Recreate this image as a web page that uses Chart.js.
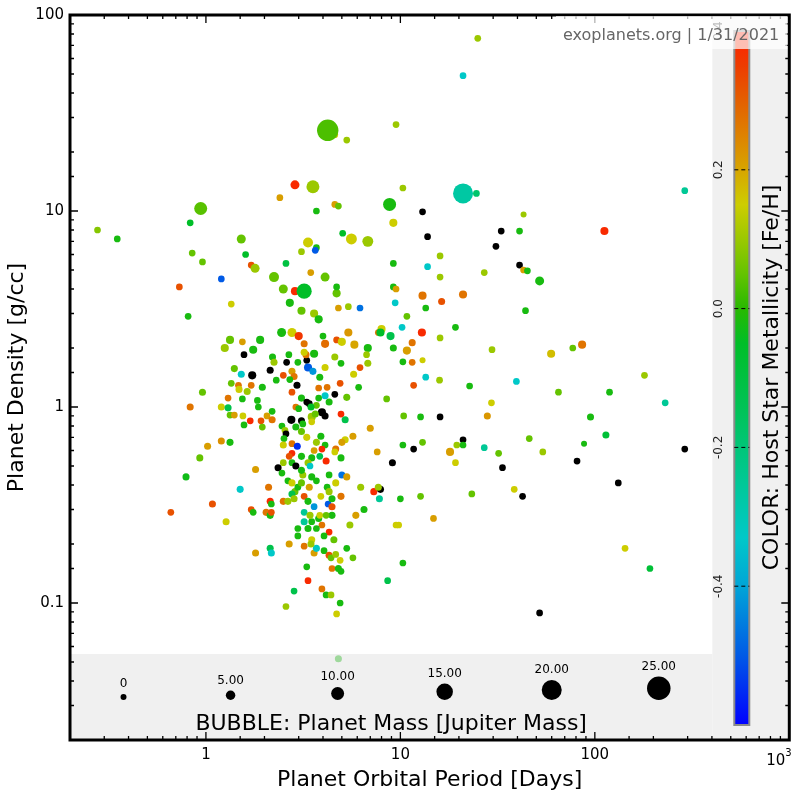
<!DOCTYPE html>
<html>
<head>
<meta charset="utf-8">
<title>Planet Density vs Orbital Period</title>
<style>
  html, body { margin: 0; padding: 0; background: #fff; }
  #wrap { width: 800px; height: 800px; }
</style>
<script src="https://cdn.jsdelivr.net/npm/chart.js@4.4.1/dist/chart.umd.min.js"></script>
</head>
<body>
<div id="wrap"><canvas id="chart" width="800" height="800"></canvas></div>
<script>
// orbital period [days], density [g/cc], mass [Jupiter], host star [Fe/H] (null = unknown, drawn black)
const period = [
  0.277, 0.35, 0.94, 0.83, 0.85, 0.96, 0.73, 1.2, 0.81, 1.35,
  1.52, 1.6, 1.71, 1.79, 2.24, 2.58, 2.4, 2.87, 3.55,
  4.6, 4.23, 5.3, 9.5, 3.7, 4.6, 4.8, 5.05, 5.6, 6.8,
  8.8, 9.2, 3.35, 3.1, 3.7, 3.65, 3.46, 4.1, 2.5, 2.87,
  3.2, 2.7, 4.7, 4.7, 5.4, 4.8, 6.2, 3.1, 3.6, 3.8,
  9.2, 9.5, 9.4, 8.0, 7.7, 7.9, 8.9, 9.2, 2.45, 2.77,
  3.0, 3.2, 4.0, 4.1, 4.7, 5.0, 5.4, 5.8, 6.8, 1.33,
  1.25, 1.54, 1.9, 1.75, 1.57, 1.4, 1.52, 1.73, 2.14, 2.2,
  2.24, 2.67, 2.6, 2.97, 3.3, 3.27, 3.6, 3.35, 3.55, 4.1,
  4.6, 4.95, 6.2, 6.7, 6.8, 2.5, 2.77, 2.84, 2.7, 2.94,
  2.3, 1.95, 1.71, 1.63, 1.47, 1.48, 1.35, 0.96, 2.77, 3.1,
  3.8, 4.2, 4.1, 4.6, 5.3, 6.1, 8.5, 1.3, 1.54, 1.84,
  3.3, 3.8, 25, 21, 10.3, 21, 24.6, 290, 13, 13.8,
  43, 33, 31, 41, 112, 16, 13.8, 16, 27, 41,
  43, 45, 52, 13, 16.3, 21, 13.5, 10.8, 44, 10.2,
  12.9, 19.2, 16, 11.5, 10.8, 29.6, 59.6, 77, 86, 10.3,
  11.5, 13, 11.7, 13.5, 15.9, 22.7, 39.5, 65, 119, 180,
  230, 29.4, 10.4, 12.7, 16, 28, 95, 10.3, 11.7, 13,
  21, 19.5, 21, 18, 19.2, 27, 32, 33.5, 46, 54,
  88, 81, 114, 290, 132, 10, 12.7, 23.3, 38.5, 42.5,
  14.8, 9.8, 10.3, 143, 192, 52, 0.83, 1.2, 1.3, 1.33,
  1.4, 1.55, 1.69, 1.57, 1.92, 1.95, 2.06, 2.19, 2.19, 1.86,
  2.46, 2.55, 2.58, 2.75, 3.1, 2.9, 3.0, 3.4, 3.95, 4.1,
  3.5, 3.65, 4.95, 5.2, 2.9, 3.1, 3.15, 3.5, 2.52, 2.5,
  2.77, 2.95, 3.3, 3.9, 3.7, 4.1, 3.95, 4.65, 5.2, 5.7,
  5.0, 3.6, 2.77, 2.68, 3.1, 3.5, 3.85, 3.35, 4.6, 4.95,
  4.15, 3.43, 2.77, 2.5, 2.35, 2.9, 2.46, 1.8, 0.93, 1.02,
  1.2, 1.33, 0.79, 1.5, 1.08, 0.66, 1.27, 1.71, 1.75, 2.1,
  2.14, 2.04, 2.14, 2.5, 2.64, 2.77, 2.87, 2.77, 2.97, 3.1,
  3.4, 3.7, 3.2, 3.35, 3.6, 3.9, 4.25, 4.45, 4.2, 4.3,
  5.0, 4.65, 5.3, 4.95, 6.25, 6.5, 5.5, 5.9, 7.3, 7.9,
  7.7, 7.8, 9.5, 3.2, 3.5, 3.8, 3.95, 4.3, 4.45, 3.2,
  2.97, 3.35, 3.7, 2.97, 3.5, 4.05, 4.55, 5.3, 5.7, 2.68,
  3.2, 3.6, 3.7, 4.05, 4.3, 4.4, 4.65, 4.45, 4.9, 4.8,
  4.95, 3.3, 3.35, 3.95, 4.15, 4.4, 4.9, 4.7, 2.84, 2.58,
  8.6, 1.8, 2.14, 2.17, 4.8, 7.0, 7.6, 9.1,
  4.3, 2.17, 2.17, 2.64, 2.84, 9.2, 3.2, 3.85, 5.75, 4.9, 4.3,
  3.7, 3.5, 3.15, 4.45, 3.43, 3.85, 4.15, 3.47, 3.47, 3.1
];
const density = [
  8.0, 7.2, 10.3, 8.7, 6.1, 5.5, 4.1, 4.5, 2.9, 3.35,
  7.2, 6.0, 5.3, 5.1, 4.6, 5.4, 11.7, 13.6, 13.3,
  24.5, 25.8, 23, 27.6, 10, 10.8, 10.6, 7.7, 7.2, 7.0,
  10.8, 8.7, 6.9, 6.2, 6.5, 6.3, 4.85, 4.6, 4.0, 3.9,
  3.9, 3.4, 3.8, 4.1, 3.25, 3.2, 3.2, 3.1, 3.0, 2.8,
  4.1, 4.0, 3.4, 2.5, 2.4, 2.4, 2.3, 2.0, 2.4, 2.4,
  2.3, 2.1, 2.3, 2.1, 2.2, 2.15, 2.4, 2.08, 2.0, 2.2,
  2.0, 2.15, 2.2, 1.96, 1.85, 1.57, 1.47, 1.45, 1.54, 1.8,
  1.69, 1.85, 1.69, 1.69, 1.73, 1.85, 1.87, 1.59, 1.52, 1.59,
  1.8, 1.67, 1.59, 1.85, 1.67, 1.45, 1.52, 1.43, 1.38, 1.29,
  1.37, 1.26, 1.29, 1.2, 1.29, 1.23, 1.32, 1.19, 1.19, 1.11,
  1.25, 1.26, 1.14, 1.16, 1.12, 1.26, 1.1, 1.11, 1.1, 1.08,
  1.06, 1.11, 76, 49, 13.1, 12.3, 12.3, 12.7, 9.9, 7.4,
  9.6, 7.9, 6.6, 7.9, 7.9, 5.9, 5.2, 4.6, 4.85, 5.3,
  5.0, 4.95, 4.4, 3.7, 3.45, 3.75, 3.2, 2.9, 3.1, 2.55,
  2.4, 2.55, 2.25, 2.13, 1.94, 1.96, 1.87, 2.0, 2.08, 1.7,
  1.69, 1.73, 1.29, 1.42, 1.37, 1.28, 1.35, 1.19, 1.19, 1.45,
  1.05, 1.05, 0.9, 0.89, 0.89, 0.9, 0.89, 0.64, 0.61, 0.66,
  0.68, 0.64, 0.64, 0.59, 0.52, 0.62, 0.58, 0.49, 0.69, 0.59,
  0.65, 0.53, 0.72, 0.61, 0.41, 0.34, 0.35, 0.36, 0.38, 0.35,
  0.27, 0.25, 0.16, 0.19, 0.15, 0.089, 1.0, 1.0, 0.99, 0.91,
  0.91, 0.9, 0.85, 0.81, 0.85, 0.79, 0.9, 0.95, 0.86, 1.0,
  0.8, 0.76, 0.73, 0.86, 0.85, 1.0, 0.98, 1.04, 0.94, 0.9,
  0.89, 0.92, 0.92, 0.86, 0.79, 0.75, 0.82, 0.84, 0.69, 0.64,
  0.65, 0.63, 0.7, 0.71, 0.66, 0.64, 0.61, 0.61, 0.68, 0.71,
  0.66, 0.6, 0.58, 0.56, 0.56, 0.55, 0.56, 0.52, 0.59, 0.55,
  0.53, 0.5, 0.52, 0.52, 0.49, 0.5, 0.46, 0.48, 0.55, 0.63,
  0.67, 0.66, 0.44, 0.38, 0.32, 0.29, 0.26, 0.3, 0.29, 0.39,
  0.33, 0.29, 0.28, 0.33, 0.42, 0.41, 0.37, 0.36, 0.39, 0.41,
  0.39, 0.42, 0.35, 0.33, 0.31, 0.35, 0.32, 0.31, 0.39, 0.37,
  0.45, 0.41, 0.44, 0.35, 0.39, 0.3, 0.25, 0.28, 0.37, 0.38,
  0.39, 0.34, 0.25, 0.29, 0.26, 0.27, 0.25, 0.23, 0.28, 0.26,
  0.24, 0.24, 0.24, 0.22, 0.21, 0.22, 0.21, 0.19, 0.17, 0.2,
  0.195, 0.18, 0.19, 0.185, 0.175, 0.17, 0.177, 0.15, 0.165, 0.15,
  0.145, 0.153, 0.13, 0.118, 0.11, 0.11, 0.1, 0.088, 0.115, 0.096,
  0.13, 0.18, 0.19, 0.18, 0.052, 0.78, 0.59, 0.52,
  0.45, 0.32, 0.29, 0.33, 0.34, 5.4, 1.9, 1.42, 1.47, 1.32, 1.06,
  1.02, 0.44, 0.45, 0.34, 0.28, 0.28, 0.28, 0.2, 1.0, 0.475
];
const mass = [
  1, 1, 10, 1, 1, 1, 1, 1, 1, 1,
  4.3, 1, 1, 4.3, 5.7, 1, 1, 4.3, 10,
  1, 22, 1, 1, 1, 1, 1, 1, 7, 7,
  10, 3, 5.7, 1, 1, 1, 1, 4.3, 4.3, 3,
  13, 3, 3, 1, 1, 1, 1, 3, 3, 3,
  1, 1, 1, 3, 1, 3, 3, 1.5, 4.3, 4.3,
  3, 1.5, 1, 3, 1, 3, 3, 3, 3, 3,
  3, 1, 3, 3, 1, 1.5, 1.5, 3, 1.5, 1.5,
  1.5, 1, 1, 1, 1, 1.5, 3, 3, 1.5, 1.5,
  1.5, 1, 1, 1, 1.5, 1, 1.5, 1.5, 1, 1.5,
  1, 1.5, 1, 1.5, 1, 1.5, 1, 1.5, 1, 1.5,
  1, 1, 1.5, 1, 1.5, 1, 1, 1, 1, 1,
  1, 1, 1, 1, 1, 20, 1, 1, 1, 1,
  0, 1, 1, 1, 3, 1, 1, 1, 1, 1,
  1, 1, 4.3, 3, 1.5, 3, 1, 1, 1, 1,
  3, 1, 1, 1.5, 3, 1, 3, 1, 3, 1,
  1, 0, 1, 1, 1, 1, 1, 1, 1, 1,
  1, 1, 1, 1, 1, 1.5, 1.5, 1, 1, 1,
  1, 1, 1, 3, 1, 1, 1, 1, 1, 1,
  0, 1, 1.5, 1, 1, 1, 1, 1, 1, 1,
  1, 1, 1, 1, 1, 1, 1.5, 1.5, 1.5, 1,
  1, 1, 1, 1, 1, 1, 1, 1, 1.5, 1,
  1, 1, 1, 3, 1.5, 1, 1, 1, 3, 1.5,
  3, 1.5, 1, 1.5, 1.5, 1.5, 1, 1, 1, 1.5,
  1, 1.5, 1.5, 1.5, 1.5, 1, 1, 1.5, 1.5, 1.5,
  1.5, 1, 1, 1, 1.5, 1.5, 1, 1.5, 1, 1.5,
  1.5, 1, 1, 1, 1.5, 1.5, 1, 1.5, 1.5, 1.5,
  1.5, 1.5, 1.5, 1.5, 1.5, 1, 1.5, 1, 1, 1.5,
  1.5, 1.5, 1.5, 1.5, 1, 1.5, 1.5, 1.5, 1, 1.5,
  1.5, 1, 1, 1.5, 1, 1, 1, 1.5, 1, 1.5,
  1.5, 1.5, 1.5, 1.5, 1.5, 1.5, 1.5, 1.5, 1.5, 1.5,
  1.5, 1.5, 1, 1, 1, 1.5, 1, 1, 1.5, 1.5,
  1, 1.5, 1, 1, 1.5, 1, 1.5, 1, 1, 1.5,
  1, 1.5, 1.5, 1, 1.5, 1, 1, 1, 1, 1.5,
  1, 1, 1, 1, 1, 1, 1, 1, 1, 1,
  1, 1.5, 1.5, 1.5, 1.5, 1.5, 1, 1.5,
  1, 1, 1, 1.5, 1.5, 1, 1.5, 1.5, 1.5, 1, 1.5,
  1, 1.5, 1.5, 1.5, 1.5, 1, 1, 1.5, 1.5, 1.5
];
const metallicity = [
  0.08, -0.02, 0.04, -0.05, 0.05, 0.05, 0.32, -0.5, -0.02, 0.15,
  0.05, -0.05, 0.32, 0.1, 0.05, -0.1, 0.21, 0.38, 0.1,
  0.15, 0.03, 0.1, 0.1, -0.02, 0.21, 0.05, -0.05, 0.15, 0.1,
  -0.02, 0.15, 0.15, 0.1, -0.02, -0.5, 0.21, 0.05, 0.05, 0.38,
  -0.05, -0.02, 0.05, -0.02, 0.1, 0.21, -0.47, 0.05, 0.1, -0.02,
  -0.02, 0.21, -0.33, 0.15, 0.27, -0.05, -0.12, -0.02, -0.02, 0.15,
  0.36, 0.27, -0.02, 0.28, 0.32, 0.15, 0.22, 0.2, -0.02, 0.05,
  0.1, 0.21, -0.02, -0.02, null, 0.05, -0.33, null, null, -0.02,
  0.1, -0.02, null, -0.02, null, 0.27, -0.02, -0.5, -0.42, 0.15,
  0.1, -0.02, 0.32, 0.1, 0.1, 0.32, 0.21, 0.27, -0.02, null,
  -0.02, -0.02, 0.27, 0.1, 0.27, 0.15, 0.05, 0.05, 0.32, -0.02,
  0.27, 0.27, -0.33, null, 0.05, -0.02, 0.05, 0.27, -0.02, -0.02,
  null, -0.02, 0.1, -0.33, 0.1, -0.27, -0.18, -0.25, null, null,
  0.1, null, null, -0.02, 0.38, 0.1, -0.33, 0.1, 0.1, null,
  0.21, -0.02, -0.02, 0.27, 0.32, 0.27, -0.02, 0.05, -0.02, -0.33,
  0.38, -0.02, 0.1, 0.27, 0.21, 0.1, 0.17, 0.05, 0.27, -0.02,
  0.27, 0.15, 0.32, -0.33, 0.1, -0.02, -0.33, 0.05, -0.02, 0.1,
  -0.25, 0.15, 0.05, -0.02, null, 0.22, -0.02, -0.02, null, 0.05,
  null, 0.1, -0.02, 0.21, 0.15, -0.25, 0.05, null, 0.05, 0.1,
  -0.02, null, -0.08, null, null, -0.02, 0.05, 0.05, 0.15, null,
  0.21, 0.15, -0.02, 0.15, -0.08, null, 0.27, 0.15, -0.12, 0.05,
  0.21, 0.15, 0.38, -0.02, 0.32, 0.05, 0.21, -0.02, 0.27, -0.02,
  -0.02, 0.1, null, null, null, 0.27, -0.02, null, null, null,
  0.1, 0.05, 0.38, -0.12, -0.02, 0.05, -0.02, 0.15, -0.02, 0.15,
  0.27, -0.55, 0.15, -0.02, 0.1, -0.02, 0.38, 0.27, 0.15, 0.21,
  0.21, 0.21, 0.38, 0.32, -0.02, -0.02, -0.12, 0.1, 0.15, -0.02,
  0.38, -0.33, -0.02, 0.1, null, null, -0.02, 0.21, 0.05, 0.21,
  0.23, -0.02, -0.03, -0.33, 0.32, 0.32, 0.15, 0.32, -0.02, 0.27,
  0.38, 0.27, -0.02, 0.27, -0.02, 0.15, 0.05, -0.12, -0.02, 0.05,
  0.21, -0.02, 0.32, -0.02, -0.42, 0.15, -0.5, 0.32, -0.02, 0.1,
  -0.47, 0.15, 0.21, 0.27, 0.1, -0.02, 0.1, 0.21, 0.38, null,
  0.1, -0.25, 0.15, -0.25, -0.02, -0.02, 0.27, 0.38, -0.02, -0.25,
  -0.02, -0.02, -0.02, -0.02, 0.15, -0.02, 0.05, -0.02, 0.05, 0.21,
  0.27, 0.21, -0.33, -0.02, 0.32, 0.05, 0.1, 0.27, 0.15, -0.02,
  -0.02, -0.02, 0.38, 0.27, -0.02, 0.1, -0.02, 0.15, -0.12, 0.1,
  -0.12, 0.21, -0.12, -0.33, -0.02, 0.21, 0.21, null,
  -0.02, -0.02, 0.32, 0.1, 0.1, -0.02, 0.15, -0.02, 0.15, 0.32, -0.02,
  0.05, -0.02, 0.1, -0.02, 0.1, 0.15, 0.05, 0.1, -0.05, -0.02
];

// legend / axis labels
const massLegend = [0, 5, 10, 15, 20, 25];
const fehTicks = [0.4, 0.2, 0.0, -0.2, -0.4];
const xLabels = [1, 10, 100];
const yLabels = [0.1, 1, 10, 100];

// colour scale of the colour bar (bottom = blue, top = red)
const fehStops = [-0.6, -0.5, -0.4, -0.33, -0.25, -0.15, -0.05, 0.0, 0.05, 0.1, 0.15, 0.2, 0.25, 0.3, 0.35, 0.4];
const rgbStops = [[0,0,255],[0,90,230],[0,165,215],[0,200,200],[0,200,150],[0,195,90],[0,190,40],[40,185,0],
                  [100,195,0],[155,200,0],[205,205,0],[215,165,0],[222,130,0],[228,95,0],[238,60,0],[255,30,0]];

const FONT = '"DejaVu Sans", Verdana, sans-serif';
const bubbleR = m => 3 + 0.35 * m;
const isPow10 = v => Math.abs(Math.log10(v) - Math.round(Math.log10(v))) < 1e-6;

function fehColor(f) {
  if (f === null || f === undefined) return '#000';
  const v = Math.max(fehStops[0], Math.min(fehStops[fehStops.length - 1], f));
  for (let i = 1; i < fehStops.length; i++) {
    if (v <= fehStops[i]) {
      const t = (v - fehStops[i - 1]) / (fehStops[i] - fehStops[i - 1]);
      const a = rgbStops[i - 1], b = rgbStops[i];
      const c = a.map((x, k) => Math.round(x + (b[k] - x) * t));
      return `rgb(${c[0]},${c[1]},${c[2]})`;
    }
  }
  return '#000';
}

const points = period.map((p, i) => ({ x: p, y: density[i], r: bubbleR(mass[i]) }));

// panels, colour bar, bubble legend, inside ticks, frame
const decorations = {
  id: 'decorations',
  afterDatasetsDraw(chart) {
    const { ctx, chartArea: a } = chart;
    const xs = chart.scales.x, ys = chart.scales.y;
    const panelRight = a.right - 77;
    const panelTop = a.bottom - 86;
    ctx.save();

    ctx.fillStyle = 'rgba(232,232,232,0.65)';
    ctx.fillRect(a.left, panelTop, panelRight - a.left, a.bottom - panelTop);
    ctx.fillRect(panelRight, a.top, a.right - panelRight, a.bottom - a.top);

    // bubble size legend
    const slotW = (panelRight - a.left) / massLegend.length;
    ctx.fillStyle = '#000';
    ctx.textAlign = 'center';
    ctx.textBaseline = 'alphabetic';
    massLegend.forEach((m, i) => {
      const cx = a.left + slotW * (i + 0.5);
      const r = bubbleR(m);
      const cy = a.bottom - 40 - r;
      ctx.beginPath();
      ctx.arc(cx, cy, r, 0, Math.PI * 2);
      ctx.fill();
      ctx.font = '12px ' + FONT;
      ctx.fillText(m === 0 ? '0' : m.toFixed(2), cx, cy - r - 7);
    });
    ctx.font = '22px ' + FONT;
    ctx.fillText('BUBBLE: Planet Mass [Jupiter Mass]', (a.left + panelRight) / 2, a.bottom - 10);

    // colour bar
    const cbL = a.right - 55, cbW = 15, cbT = a.top + 16, cbB = a.bottom - 15;
    const fMin = fehStops[0], fMax = fehStops[fehStops.length - 1];
    const grad = ctx.createLinearGradient(0, cbB, 0, cbT);
    fehStops.forEach((f, i) => {
      const c = rgbStops[i];
      grad.addColorStop((f - fMin) / (fMax - fMin), `rgb(${c[0]},${c[1]},${c[2]})`);
    });
    ctx.fillStyle = grad;
    ctx.fillRect(cbL, cbT, cbW, cbB - cbT);
    ctx.strokeStyle = '#8a8a8a';
    ctx.lineWidth = 2;
    ctx.strokeRect(cbL, cbT, cbW, cbB - cbT);

    fehTicks.forEach(f => {
      const y = cbB - (f - fMin) / (fMax - fMin) * (cbB - cbT);
      if (f < fMax) {
        ctx.save();
        ctx.strokeStyle = '#000';
        ctx.lineWidth = 1;
        ctx.setLineDash([4, 3]);
        ctx.beginPath();
        ctx.moveTo(cbL, y);
        ctx.lineTo(cbL + cbW, y);
        ctx.stroke();
        ctx.restore();
      }
      ctx.save();
      ctx.translate(a.right - 70, y);
      ctx.rotate(-Math.PI / 2);
      ctx.fillStyle = '#222';
      ctx.font = '12px ' + FONT;
      ctx.textAlign = 'center';
      ctx.textBaseline = 'middle';
      ctx.fillText(f.toFixed(1), 0, 0);
      ctx.restore();
    });

    ctx.save();
    ctx.translate(a.right - 17, (a.top + a.bottom) / 2);
    ctx.rotate(-Math.PI / 2);
    ctx.fillStyle = '#000';
    ctx.font = '22px ' + FONT;
    ctx.textAlign = 'center';
    ctx.textBaseline = 'middle';
    ctx.fillText('COLOR: Host Star Metallicity [Fe/H]', 0, 0);
    ctx.restore();

    // inside tick marks on all four sides
    ctx.strokeStyle = '#000';
    ctx.lineWidth = 1.3;
    ctx.beginPath();
    xs.ticks.forEach(t => {
      const len = isPow10(t.value) ? 8 : 4;
      const x = xs.getPixelForValue(t.value);
      ctx.moveTo(x, a.bottom); ctx.lineTo(x, a.bottom - len);
      ctx.moveTo(x, a.top); ctx.lineTo(x, a.top + len);
    });
    ys.ticks.forEach(t => {
      const len = isPow10(t.value) ? 8 : 4;
      const y = ys.getPixelForValue(t.value);
      ctx.moveTo(a.left, y); ctx.lineTo(a.left + len, y);
      ctx.moveTo(a.right, y); ctx.lineTo(a.right - len, y);
    });
    ctx.stroke();

    ctx.lineWidth = 3;
    ctx.strokeRect(a.left, a.top, a.right - a.left, a.bottom - a.top);

    // last x label as 10^3
    ctx.fillStyle = '#000';
    ctx.font = '15px ' + FONT;
    ctx.textAlign = 'right';
    ctx.textBaseline = 'alphabetic';
    ctx.fillText('10', a.right - 4, a.bottom + 25);
    ctx.font = '10px ' + FONT;
    ctx.textAlign = 'left';
    ctx.fillText('3', a.right - 4, a.bottom + 16);

    // source stamp
    ctx.fillStyle = 'rgba(255,255,255,0.7)';
    ctx.fillRect(556, a.top + 1, a.right - 558, 33);
    ctx.fillStyle = '#666';
    ctx.font = '16px ' + FONT;
    ctx.textAlign = 'right';
    ctx.fillText('exoplanets.org | 1/31/2021', a.right - 10, a.top + 25);
    ctx.restore();
  }
};

const tickFont = { family: FONT, size: 15 };
const titleFont = { family: FONT, size: 22 };

new Chart(document.getElementById('chart'), {
  type: 'bubble',
  data: {
    datasets: [{
      data: points,
      backgroundColor: c => fehColor(metallicity[c.dataIndex]),
      borderWidth: 0,
      hoverBorderWidth: 0,
      hoverRadius: 0
    }]
  },
  options: {
    responsive: false,
    animation: false,
    devicePixelRatio: 1,
    layout: { padding: { left: 0, top: 7, right: 8, bottom: 0 } },
    plugins: { legend: { display: false }, tooltip: { enabled: false } },
    scales: {
      x: {
        type: 'logarithmic',
        position: 'bottom',
        min: 0.2,
        max: 1000,
        grid: { display: false, drawTicks: false },
        border: { display: false },
        afterFit: s => { s.height = 60; },
        ticks: {
          autoSkip: false, maxRotation: 0, padding: 6, color: '#000', font: tickFont,
          callback: v => {
            const t = xLabels.find(l => Math.abs(v / l - 1) < 1e-6);
            return t === undefined ? '' : String(t);
          }
        },
        title: { display: true, text: 'Planet Orbital Period [Days]', color: '#000', font: titleFont, padding: { top: 0, bottom: 7 } }
      },
      y: {
        type: 'logarithmic',
        position: 'left',
        min: 0.02,
        max: 100,
        grid: { display: false, drawTicks: false },
        border: { display: false },
        afterFit: s => { s.width = 70; },
        ticks: {
          autoSkip: false, padding: 6, color: '#000', font: tickFont,
          callback: v => {
            const t = yLabels.find(l => Math.abs(v / l - 1) < 1e-6);
            return t === undefined ? '' : String(t);
          }
        },
        title: { display: true, text: 'Planet Density [g/cc]', color: '#000', font: titleFont, padding: { top: 4, bottom: 0 } }
      }
    }
  },
  plugins: [decorations]
});
</script>
</body>
</html>
